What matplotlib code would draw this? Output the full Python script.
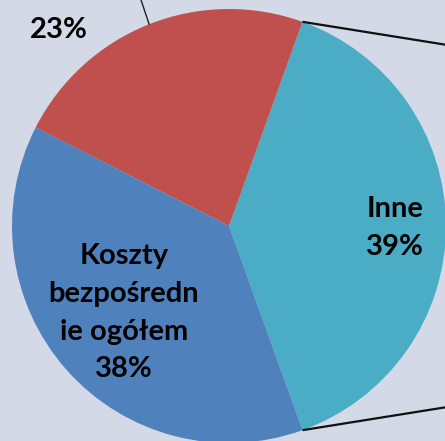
import numpy as np
from matplotlib import pyplot as plt

# dane z wykresu
labels = ['Inne', '', 'Koszty\nbezpośredn\nie ogółem']
values = [39, 23, 38]
pct_labels = ['39%', '23%', '38%']
colors = ['#4BACC6', '#C0504D', '#4F81BD']
bg = '#D3D9E7'

plt.rcParams['font.family'] = ['Lato', 'DejaVu Sans']

fig = plt.figure(figsize=(4.45, 4.41), dpi=100, facecolor=bg)
ax = fig.add_axes([0, 0, 1, 1])
ax.set_facecolor(bg)

start = -values[0] / 100 * 360 / 2
wedges, _ = ax.pie(values, colors=colors, startangle=start, radius=1,
                   counterclock=True, wedgeprops=dict(linewidth=0))

ax.set_xlim(-229 / 217, 216 / 217)
ax.set_ylim(-215 / 217, 226 / 217)
ax.set_aspect('auto')
ax.axis('off')

# linie łączące z drugim wykresem (pie of pie)
th = np.deg2rad(wedges[0].theta2)
x0, y0 = np.cos(th), np.sin(th)
ax.plot([x0, x0 + 0.75], [y0, y0 - 0.75 * 0.16], color='#111111', lw=1.6, solid_capstyle='butt')
th = np.deg2rad(wedges[0].theta1)
x0, y0 = np.cos(th), np.sin(th)
ax.plot([x0, x0 + 0.75], [y0, y0 + 0.75 * 0.16], color='#111111', lw=1.6, solid_capstyle='butt')

# linia odniesienia dla 23%
th = np.deg2rad((wedges[1].theta1 + wedges[1].theta2) / 2)
x0, y0 = np.cos(th), np.sin(th)
ax.plot([x0, x0 - 0.05], [y0, y0 + 0.15], color='#222222', lw=1.0)

fs = 21
ax.text(-0.785, 0.905, pct_labels[1], ha='center', va='center',
        fontsize=fs, fontweight='bold', color='black')
ax.text(0.765, -0.01, labels[0] + '\n' + pct_labels[0], ha='center', va='center',
        fontsize=fs, fontweight='bold', color='black', linespacing=1.55)
ax.text(-0.485, -0.40, labels[2] + '\n' + pct_labels[2], ha='center', va='center',
        fontsize=fs, fontweight='bold', color='black', linespacing=1.55)

fig.savefig('out.png', dpi=100, facecolor=bg)
